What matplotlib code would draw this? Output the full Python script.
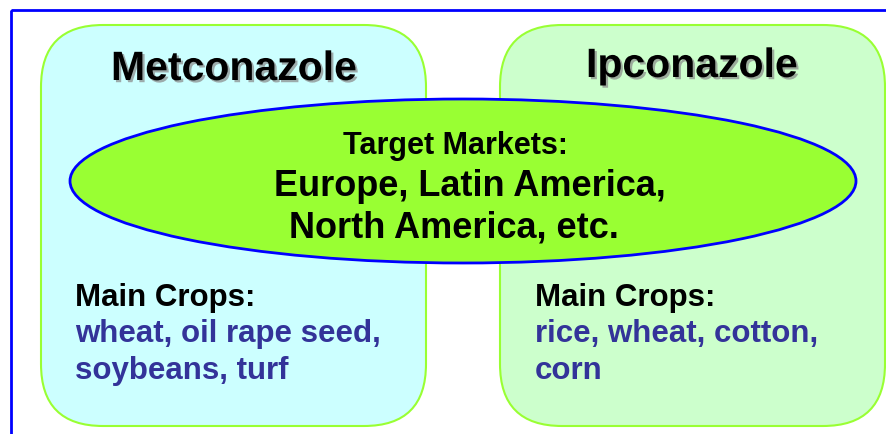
import matplotlib.pyplot as plt
from matplotlib.patches import FancyBboxPatch, Ellipse, Rectangle
import matplotlib.patheffects as pe

# Content
products = ['Metconazole', 'Ipconazole']
market_title = 'Target Markets:'
market_lines = ['Europe, Latin America,', 'North America, etc.']
crops_title = 'Main Crops:'
crops_lines = [
    ['wheat, oil rape seed,', 'soybeans, turf'],
    ['rice, wheat, cotton,', 'corn'],
]

plt.rcParams['font.family'] = ['Liberation Sans', 'DejaVu Sans']

fig = plt.figure(figsize=(8.86, 4.35), dpi=100)
ax = fig.add_axes([0, 0, 1, 1])
ax.set_xlim(0, 886)
ax.set_ylim(435, 0)
ax.axis('off')

# Outer blue frame (runs off the right and bottom edges)
ax.add_patch(Rectangle((11, 11), 900, 450, fill=False,
                       edgecolor='#0000ff', linewidth=2))

# Two rounded boxes
box_x = [41, 500]
box_fill = ['#ccffff', '#ccffcc']
for x, fc in zip(box_x, box_fill):
    ax.add_patch(FancyBboxPatch((x, 26), 385, 401,
                                boxstyle='round,pad=0,rounding_size=62',
                                facecolor=fc, edgecolor='#99ff33',
                                linewidth=1.5))

# Product titles with a soft shadow
shadow = [pe.SimplePatchShadow(offset=(1.6, -1.6), shadow_rgbFace='#888888',
                               alpha=0.7),
          pe.Normal()]
title_x = [234, 692]
title_y = [81, 78]
for name, x, y in zip(products, title_x, title_y):
    ax.text(x, y, name, ha='center', va='baseline', fontsize=29.5,
            fontweight='bold', color='black', path_effects=shadow)

# Central ellipse with markets
ax.add_patch(Ellipse((463, 182), 786, 164, facecolor='#99ff33',
                     edgecolor='#0000ff', linewidth=2))
ax.text(455, 154, market_title, ha='center', va='baseline', fontsize=22,
        fontweight='bold')
market_x = [470, 454]
market_y = [196, 238]
for line, x, y in zip(market_lines, market_x, market_y):
    ax.text(x, y, line, ha='center', va='baseline', fontsize=26,
            fontweight='bold')

# Main crops
crops_x = [75, 535]
for x, lines in zip(crops_x, crops_lines):
    ax.text(x, 306, crops_title, ha='left', va='baseline', fontsize=22.5,
            fontweight='bold', color='black')
    for i, line in enumerate(lines):
        ax.text(x, 342 + 37 * i, line, ha='left', va='baseline',
                fontsize=22.5, fontweight='bold', color='#333399')

fig.savefig('out.png', dpi=100)
